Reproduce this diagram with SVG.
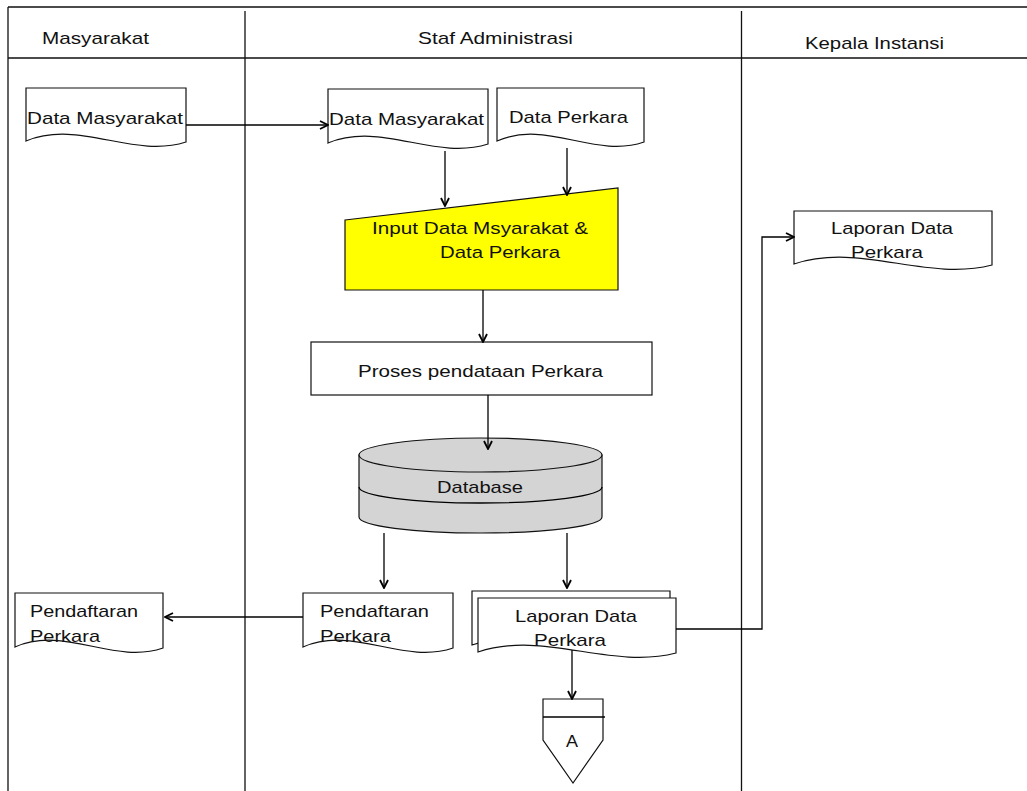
<svg xmlns="http://www.w3.org/2000/svg" width="1027" height="791" viewBox="0 0 1027 791">
  <defs>
    <marker id="arrow" viewBox="0 0 10 10" refX="9" refY="5" markerWidth="10" markerHeight="10" markerUnits="userSpaceOnUse" orient="auto">
      <path d="M1,1 L9,5 L1,9" fill="none" stroke="#000" stroke-width="1.8"/>
    </marker>
    <style>
      .frame { fill: none; stroke: #111; stroke-width: 1.3; }
      .shape { fill: #fff; stroke: #111; stroke-width: 1.2; }
      .input { fill: #ffff00; stroke: #111; stroke-width: 1.2; }
      .db { fill: #d4d4d4; stroke: #111; stroke-width: 1.2; }
      .line { fill: none; stroke: #000; stroke-width: 1.3; }
      .arr { fill: none; stroke: #000; stroke-width: 1.3; marker-end: url(#arrow); }
      text { font-family: "Liberation Sans", Arial, sans-serif; font-size: 17px; fill: #111; }
    </style>
  </defs>
  <rect width="1027" height="791" fill="#fff"/>

  <!-- swimlane frame -->
  <g id="lanes">
    <path class="frame" d="M8,7 H1027 M8,58 H1027 M8,7 V791 M245,11 V791 M741.5,11 V791"/>
    <text x="42" y="44" textLength="107" lengthAdjust="spacingAndGlyphs">Masyarakat</text>
    <text x="418" y="44" textLength="155" lengthAdjust="spacingAndGlyphs">Staf Administrasi</text>
    <text x="805" y="49" textLength="139" lengthAdjust="spacingAndGlyphs">Kepala Instansi</text>
  </g>

  <!-- Masyarakat lane -->
  <g id="doc-data-masyarakat-1">
    <path class="shape" d="M26,88 H186 V142 C132.7,159 79.3,119 26,141 Z"/>
    <text x="27" y="124" textLength="156" lengthAdjust="spacingAndGlyphs">Data Masyarakat</text>
  </g>
  <g id="doc-pendaftaran-1">
    <path class="shape" d="M15,593 H163 V648 C113.7,665 64.3,625 15,647 Z"/>
    <text x="30" y="617" textLength="108" lengthAdjust="spacingAndGlyphs">Pendaftaran</text>
    <text x="30" y="642" textLength="70" lengthAdjust="spacingAndGlyphs">Perkara</text>
  </g>

  <!-- Staf Administrasi lane -->
  <g id="doc-data-masyarakat-2">
    <path class="shape" d="M328,89 H488 V144 C434.7,161 381.3,121 328,143 Z"/>
    <text x="329" y="125" textLength="155" lengthAdjust="spacingAndGlyphs">Data Masyarakat</text>
  </g>
  <g id="doc-data-perkara">
    <path class="shape" d="M497,88 H644 V142 C595,159 546,119 497,141 Z"/>
    <text x="509" y="123" textLength="119" lengthAdjust="spacingAndGlyphs">Data Perkara</text>
  </g>
  <g id="input-data">
    <path class="input" d="M345,220 L618,188 V290 H345 Z"/>
    <text x="372" y="234" textLength="216" lengthAdjust="spacingAndGlyphs">Input Data Msyarakat &amp;</text>
    <text x="440" y="258" textLength="120" lengthAdjust="spacingAndGlyphs">Data Perkara</text>
  </g>
  <g id="proses-pendataan">
    <rect class="shape" x="311" y="342" width="341" height="53"/>
    <text x="358" y="377" textLength="245" lengthAdjust="spacingAndGlyphs">Proses pendataan Perkara</text>
  </g>
  <g id="database">
    <path class="db" d="M359,455 V517 A121.5,16 0 0 0 602,517 V455 Z"/>
    <ellipse class="db" cx="480.5" cy="455" rx="121.5" ry="17"/>
    <path class="line" d="M359,487 A121.5,16 0 0 0 602,487" stroke-width="1.2"/>
    <text x="437" y="493" textLength="86" lengthAdjust="spacingAndGlyphs">Database</text>
  </g>
  <g id="doc-pendaftaran-2">
    <path class="shape" d="M303,593 H453 V648 C403,665 353,625 303,647 Z"/>
    <text x="320" y="617" textLength="109" lengthAdjust="spacingAndGlyphs">Pendaftaran</text>
    <text x="320" y="642" textLength="71" lengthAdjust="spacingAndGlyphs">Perkara</text>
  </g>
  <g id="doc-laporan-multi">
    <path class="shape" d="M472,591 H670 V646 C604,663 538,623 472,645 Z"/>
    <path class="shape" d="M478,598 H676 V653 C610,670 544,630 478,652 Z"/>
    <text x="515" y="622" textLength="122" lengthAdjust="spacingAndGlyphs">Laporan Data</text>
    <text x="534" y="646" textLength="72" lengthAdjust="spacingAndGlyphs">Perkara</text>
  </g>
  <g id="offpage-a">
    <path class="shape" d="M543,699 H603 V740 L573,783 L543,740 Z"/>
    <path class="line" d="M543,717 H605"/>
    <text x="566" y="747" textLength="12" lengthAdjust="spacingAndGlyphs">A</text>
  </g>

  <!-- Kepala Instansi lane -->
  <g id="doc-laporan-kepala">
    <path class="shape" d="M794,211 H992 V265 C926,282 860,242 794,264 Z"/>
    <text x="831" y="234" textLength="122" lengthAdjust="spacingAndGlyphs">Laporan Data</text>
    <text x="851" y="258" textLength="72" lengthAdjust="spacingAndGlyphs">Perkara</text>
  </g>

  <!-- flow connectors -->
  <g id="connectors">
    <path class="arr" d="M186,125 H328"/>
    <path class="arr" d="M445,151 V206"/>
    <path class="arr" d="M567,148 V195"/>
    <path class="arr" d="M483,290 V342"/>
    <path class="arr" d="M488,395 V449"/>
    <path class="arr" d="M384,533 V588"/>
    <path class="arr" d="M567,533 V588"/>
    <path class="arr" d="M303,617 H165"/>
    <path class="arr" d="M572,650 V699"/>
    <path class="arr" d="M676,629 H762 V237 H794"/>
  </g>
</svg>
